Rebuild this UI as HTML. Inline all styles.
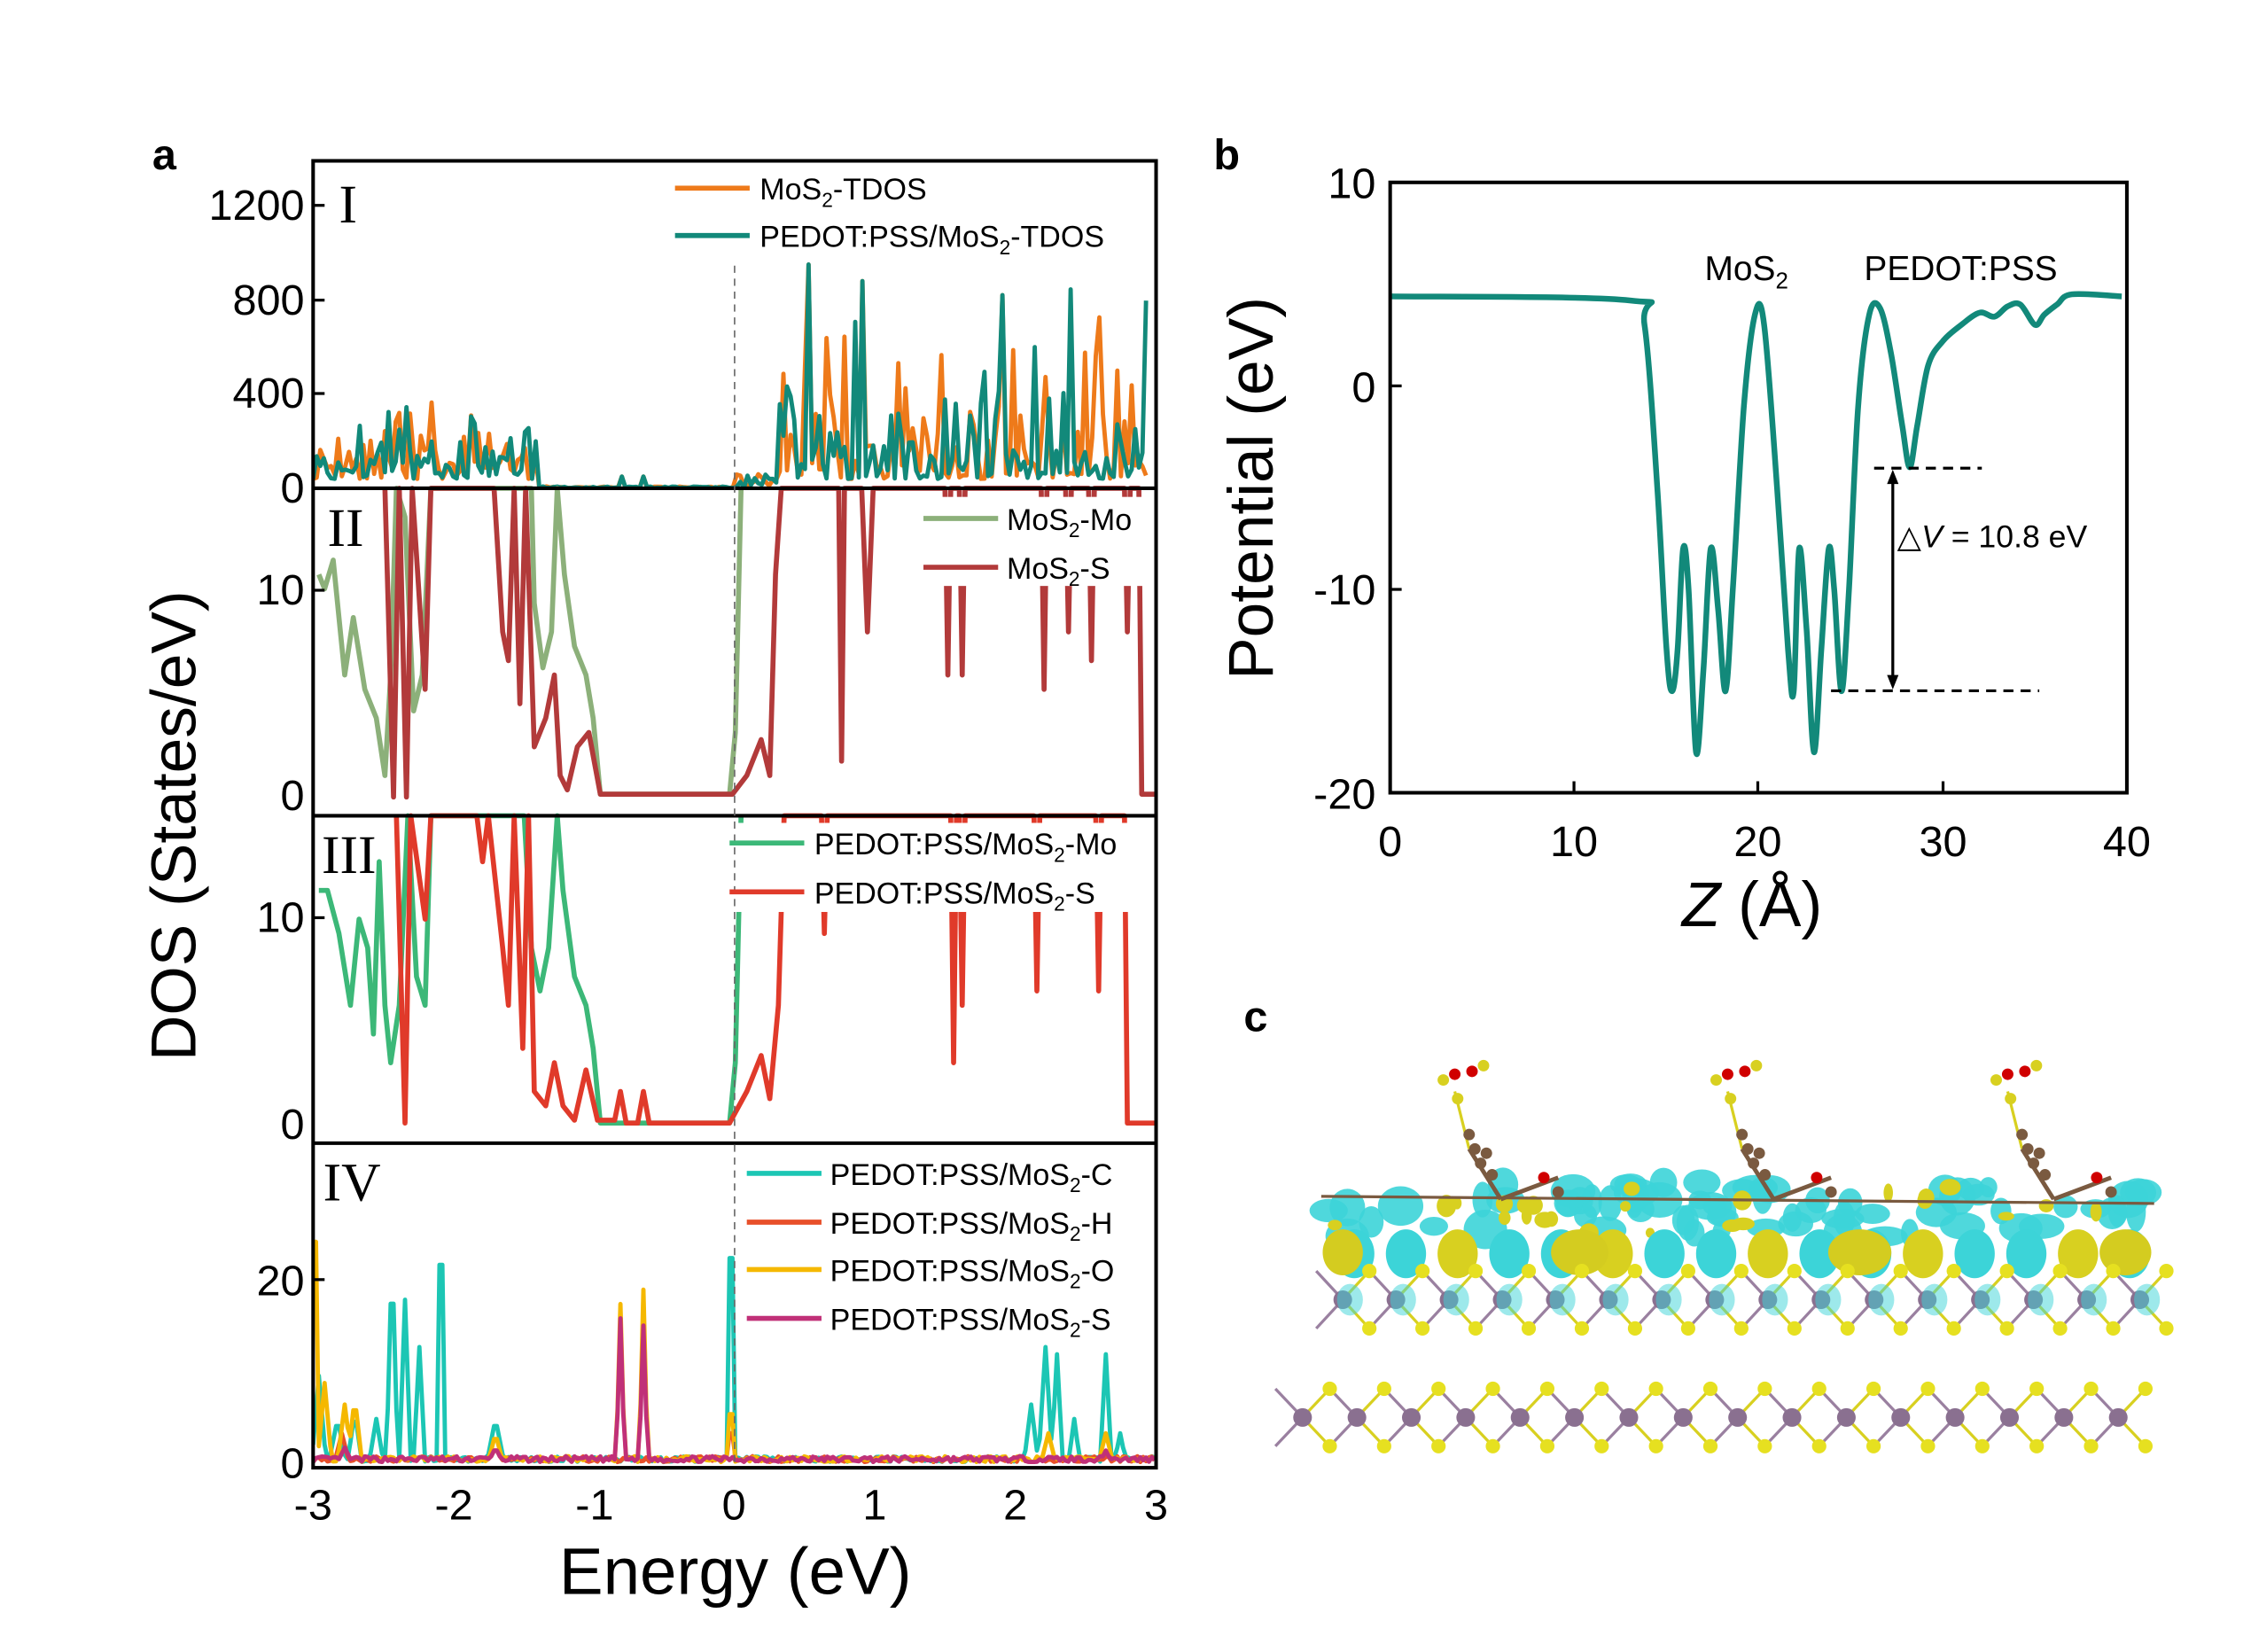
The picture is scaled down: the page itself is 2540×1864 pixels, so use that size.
<!DOCTYPE html>
<html><head><meta charset="utf-8"><style>
html,body{margin:0;padding:0;background:#fff;}
svg{display:block;font-family:"Liberation Sans",Arial,sans-serif;}
</style></head><body>
<svg id="s" width="2540" height="1864" viewBox="0 0 1567.4 1150.3" xmlns="http://www.w3.org/2000/svg">
<rect width="1567.4" height="1150.3" fill="#fff"/>
<g id="dyn"></g>
<g fill="#fff">
<rect x="640" y="346" width="162" height="62"/>
<rect x="506" y="573" width="296" height="62"/>
<rect x="518" y="803" width="284" height="128"/>
</g>
<g fill="none" stroke="#000" stroke-width="2.5">
<rect x="218" y="112" width="587" height="910"/>
<line x1="218" y1="340" x2="805" y2="340"/>
<line x1="218" y1="568" x2="805" y2="568"/>
<line x1="218" y1="796" x2="805" y2="796"/>
</g>
<line x1="511.5" y1="185" x2="511.5" y2="1022" stroke="#666" stroke-width="1" stroke-dasharray="5,4"/>
<g font-size="30" text-anchor="end" fill="#000">
<text x="212" y="153">1200</text><text x="212" y="219">800</text><text x="212" y="284">400</text><text x="212" y="350">0</text>
<text x="212" y="421">10</text><text x="212" y="564">0</text>
<text x="212" y="649">10</text><text x="212" y="793">0</text>
<text x="212" y="902">20</text><text x="212" y="1029">0</text>
</g>
<g stroke="#000" stroke-width="2">
<line x1="218" y1="143" x2="226" y2="143"/><line x1="218" y1="209" x2="226" y2="209"/><line x1="218" y1="274" x2="226" y2="274"/>
<line x1="218" y1="411" x2="226" y2="411"/><line x1="218" y1="639" x2="226" y2="639"/><line x1="218" y1="891" x2="226" y2="891"/>
</g>
<g font-size="30" text-anchor="middle">
<text x="218" y="1058">-3</text><text x="316" y="1058">-2</text><text x="414" y="1058">-1</text><text x="511" y="1058">0</text><text x="609" y="1058">1</text><text x="707" y="1058">2</text><text x="805" y="1058">3</text>
</g>
<text x="512" y="1110" font-size="46" text-anchor="middle">Energy (eV)</text>
<text transform="translate(136,575) rotate(-90)" font-size="44" text-anchor="middle">DOS (States/eV)</text>
<text x="106" y="118" font-size="30" font-weight="bold">a</text>
<g font-family="Liberation Serif,serif" font-size="38">
<text x="236" y="155">I</text><text x="228" y="380">II</text><text x="224" y="608">III</text><text x="225" y="836">IV</text>
</g>
<g font-size="21" stroke-width="3.5">
<line x1="470" y1="131" x2="522" y2="131" stroke="#ee7a1a"/><text x="529" y="139">MoS<tspan font-size="14" dy="5">2</tspan><tspan dy="-5">-TDOS</tspan></text>
<line x1="470" y1="164" x2="522" y2="164" stroke="#12897a"/><text x="529" y="172">PEDOT:PSS/MoS<tspan font-size="14" dy="5">2</tspan><tspan dy="-5">-TDOS</tspan></text>
<line x1="643" y1="361" x2="695" y2="361" stroke="#8cb07a"/><text x="701" y="369">MoS<tspan font-size="14" dy="5">2</tspan><tspan dy="-5">-Mo</tspan></text>
<line x1="643" y1="395" x2="695" y2="395" stroke="#b23a3a"/><text x="701" y="403">MoS<tspan font-size="14" dy="5">2</tspan><tspan dy="-5">-S</tspan></text>
<line x1="508" y1="587" x2="560" y2="587" stroke="#3cb878"/><text x="567" y="595">PEDOT:PSS/MoS<tspan font-size="14" dy="5">2</tspan><tspan dy="-5">-Mo</tspan></text>
<line x1="508" y1="621" x2="560" y2="621" stroke="#e03a2a"/><text x="567" y="629">PEDOT:PSS/MoS<tspan font-size="14" dy="5">2</tspan><tspan dy="-5">-S</tspan></text>
<line x1="520" y1="817" x2="572" y2="817" stroke="#1cc6b4"/><text x="578" y="825">PEDOT:PSS/MoS<tspan font-size="14" dy="5">2</tspan><tspan dy="-5">-C</tspan></text>
<line x1="520" y1="851" x2="572" y2="851" stroke="#e8502a"/><text x="578" y="859">PEDOT:PSS/MoS<tspan font-size="14" dy="5">2</tspan><tspan dy="-5">-H</tspan></text>
<line x1="520" y1="884" x2="572" y2="884" stroke="#f5b800"/><text x="578" y="892">PEDOT:PSS/MoS<tspan font-size="14" dy="5">2</tspan><tspan dy="-5">-O</tspan></text>
<line x1="520" y1="918" x2="572" y2="918" stroke="#c03078"/><text x="578" y="926">PEDOT:PSS/MoS<tspan font-size="14" dy="5">2</tspan><tspan dy="-5">-S</tspan></text>
</g>
<text x="845" y="118" font-size="30" font-weight="bold">b</text>
<rect x="968" y="127" width="513" height="425" fill="none" stroke="#000" stroke-width="2.5"/>
<g font-size="30" text-anchor="end">
<text x="958" y="138">10</text><text x="958" y="280">0</text><text x="958" y="421">-10</text><text x="958" y="563">-20</text>
</g>
<g stroke="#000" stroke-width="2">
<line x1="968" y1="268.7" x2="976" y2="268.7"/><line x1="968" y1="410.4" x2="976" y2="410.4"/>
<line x1="1096" y1="552" x2="1096" y2="544"/><line x1="1224" y1="552" x2="1224" y2="544"/><line x1="1353" y1="552" x2="1353" y2="544"/>
</g>
<g font-size="30" text-anchor="middle">
<text x="968" y="596">0</text><text x="1096" y="596">10</text><text x="1224" y="596">20</text><text x="1353" y="596">30</text><text x="1481" y="596">40</text>
</g>
<text x="1220" y="645" font-size="44" text-anchor="middle"><tspan font-style="italic">Z</tspan> (Å)</text>
<text transform="translate(886,340) rotate(-90)" font-size="44" text-anchor="middle">Potential  (eV)</text>
<text x="1187" y="195" font-size="24">MoS<tspan font-size="16" dy="6">2</tspan></text>
<text x="1298" y="195" font-size="24">PEDOT:PSS</text>
<g stroke="#000" stroke-width="2" fill="none">
<line x1="1305" y1="326" x2="1380" y2="326" stroke-dasharray="7,5"/>
<line x1="1275" y1="481" x2="1420" y2="481" stroke-dasharray="7,5"/>
<line x1="1318" y1="333" x2="1318" y2="474"/>
</g>
<path d="M1318 327 l-4 10 h8z M1318 480 l-4 -10 h8z" fill="#000"/>
<text x="1321" y="381" font-size="22">△<tspan font-style="italic">V</tspan> = 10.8 eV</text>
<text x="866" y="718" font-size="30" font-weight="bold">c</text>
</svg>
<script>
(function(){
var NS="http://www.w3.org/2000/svg",g=document.getElementById('dyn');
function el(t,a){var e=document.createElementNS(NS,t);for(var k in a)e.setAttribute(k,a[k]);g.appendChild(e);return e;}
var seed=7;function r(){seed=(seed*16807)%2147483647;return seed/2147483647;}
function line(pts,c,w){return el('polyline',{points:pts.map(function(p){return p[0].toFixed(1)+','+p[1].toFixed(1)}).join(' '),fill:'none',stroke:c,'stroke-width':w||3,'stroke-linejoin':'round'});}
var defs=el('defs',{});
function clip(id,y1,y2){var c=document.createElementNS(NS,'clipPath');c.id=id;var rr=document.createElementNS(NS,'rect');rr.setAttribute('x',218);rr.setAttribute('y',y1);rr.setAttribute('width',587);rr.setAttribute('height',y2-y1);c.appendChild(rr);defs.appendChild(c);}
clip('c1',112,340);clip('c2',340,568);clip('c3',568,796);clip('c4',796,1022);
function tdos(c,s){seed=s;var p=[];for(var x=218;x<=800;x+=2.5){var E=(x-511.5)/97.8,v;
 if(E<-1.4)v=40+r()*r()*350;else if(E<0)v=r()*8;else if(E<0.3)v=r()*60;else v=40+r()*r()*r()*1200;
 if(Math.abs(E-0.52)<0.015)v=950;if(Math.abs(E-0.9)<0.015)v=880;if(Math.abs(E-1.9)<0.015)v=820;
 if(Math.abs(E+0.8)<0.02||Math.abs(E+0.65)<0.02)v=50;
 p.push([x,340-v*0.164]);}
 line(p,c,3).setAttribute('clip-path','url(#c1)');}
tdos('#ee7a1a',11);tdos('#12897a',29);
line([[222,400],[226,410],[232,390],[240,470],[246,430],[254,480],[262,500],[268,540],[272,470],[276,340],[282,360],[288,495],[294,470],[300,340],[370,340],[372,420],[378,465],[384,440],[388,340],[393,400],[400,450],[408,470],[413,500],[418,553],[508,553],[512,510],[516,340]],'#8cb07a',3.5);
line([[268,340],[274,555],[278,340],[283,555],[287,340],[296,480],[300,340],[344,340],[350,440],[354,460],[358,340],[362,490],[366,340],[372,520],[380,500],[386,470],[390,540],[395,550],[402,520],[410,510],[418,553],[510,553],[520,540],[530,515],[536,540],[540,400],[544,340],[584,340],[586,530],[588,340],[600,340],[604,440],[608,340],[658,340],[660,470],[662,340],[668,340],[670,470],[672,340],[725,340],[727,480],[729,340],[742,340],[744,440],[746,340],[758,340],[760,460],[762,340],[783,340],[785,440],[787,340],[793,340],[795,553],[805,553]],'#b23a3a',3.5);
line([[222,620],[228,620],[236,650],[244,700],[250,640],[256,660],[260,720],[264,600],[268,700],[272,740],[278,700],[284,568],[290,680],[296,700],[300,568],[365,568],[370,660],[376,690],[382,660],[388,568],[392,620],[400,680],[408,700],[413,730],[418,782],[508,782],[512,740],[516,568]],'#3cb878',3.5);
line([[276,568],[282,782],[286,568],[296,640],[300,568],[332,568],[336,600],[340,568],[350,660],[354,700],[358,568],[364,730],[368,568],[372,760],[380,770],[386,740],[392,770],[400,780],[408,745],[416,780],[428,780],[432,760],[436,782],[444,782],[448,760],[452,782],[508,782],[520,760],[530,735],[536,765],[542,700],[546,568],[572,568],[574,650],[576,568],[662,568],[664,740],[666,568],[668,568],[670,700],[672,568],[720,568],[722,690],[724,568],[763,568],[765,690],[767,568],[783,568],[785,782],[805,782]],'#e03a2a',3.5);
function pd(c,s,sp){seed=s;var p=[];for(var x=218;x<=805;x+=2){var v=1018-r()*4;for(var i=0;i<sp.length;i++){var d=Math.abs(x-sp[i][0]);if(d<sp[i][2])v=Math.min(v,1018-(sp[i][1])*(1-d/sp[i][2]));}p.push([x,v]);}line(p,c,3).setAttribute('clip-path','url(#c4)');}
pd('#1cc6b4',3,[[222,60,5],[235,30,6],[247,35,5],[262,30,5],[273,147,4],[282,113,4],[292,80,4],[307,206,3],[345,30,6],[509,213,3],[718,40,5],[728,80,5],[736,75,4],[748,30,4],[770,75,4],[780,20,4]]);
pd('#e8502a',5,[[238,20,5],[345,10,5],[509,30,3]]);
pd('#f5b800',9,[[219,230,3],[226,55,5],[240,40,5],[247,45,5],[345,20,5],[432,110,3],[448,120,3],[509,50,3],[730,20,5],[770,20,5]]);
pd('#c03078',13,[[432,100,3],[448,95,3],[240,10,5],[345,10,5],[770,8,4]]);
var V=[[0,4.4],[13,4.2],[13.8,3],[14.5,-5],[15,-13],[15.3,-15],[15.6,-13],[15.9,-8],[16.2,-10],[16.6,-18],[17,-14],[17.4,-8],[17.8,-11],[18.2,-15],[18.6,-10],[19.2,-1],[19.8,3.5],[20.3,3],[21,-5],[21.6,-13],[21.9,-15],[22.2,-8],[22.6,-12],[23,-18],[23.4,-13],[23.8,-8],[24.1,-10],[24.5,-15],[24.9,-10],[25.4,-1],[26,3.5],[26.6,3.8],[27.2,1.5],[27.8,-2],[28.2,-4],[28.6,-2],[29.2,1],[30,2.2],[31,3],[32,3.6],[32.8,3.4],[33.5,3.9],[34.2,4],[35,3],[35.5,3.5],[36.2,4],[37,4.5],[39.7,4.4]];
var P=V.map(function(v){return [968+v[0]*12.83,268.7-v[1]*14.17];});
var d='M'+P[0][0]+' '+P[0][1];
for(var i=0;i<P.length-1;i++){var p0=P[Math.max(0,i-1)],p1=P[i],p2=P[i+1],p3=P[Math.min(P.length-1,i+2)];
 var c1=[p1[0]+(p2[0]-p0[0])/6,p1[1]+(p2[1]-p0[1])/6],c2=[p2[0]-(p3[0]-p1[0])/6,p2[1]-(p3[1]-p1[1])/6];
 d+=' C'+c1[0].toFixed(1)+' '+c1[1].toFixed(1)+' '+c2[0].toFixed(1)+' '+c2[1].toFixed(1)+' '+p2[0].toFixed(1)+' '+p2[1].toFixed(1);}
el('path',{d:d,fill:'none',stroke:'#12897a','stroke-width':4});
seed=42;
for(var i=0;i<70;i++){var x=925+r()*570,y=823+r()*38;el('ellipse',{cx:x,cy:y,rx:6+r()*10,ry:6+r()*8,fill:'#3cd4d8',opacity:0.9});}
for(var i=0;i<25;i++){var x=925+r()*570,y=823+r()*38;el('ellipse',{cx:x,cy:y,rx:3+r()*5,ry:3+r()*5,fill:'#d8d020'});}
for(var i=0;i<16;i++){var x=925+i*36;el('ellipse',{cx:x+18,cy:873,rx:14,ry:17,fill:(i%3==2)?'#d8d020':'#3cd4d8'});}
el('ellipse',{cx:1100,cy:872,rx:20,ry:16,fill:'#d4cc20'});el('ellipse',{cx:1295,cy:872,rx:22,ry:16,fill:'#d4cc20'});el('ellipse',{cx:1480,cy:872,rx:18,ry:16,fill:'#d4cc20'});el('ellipse',{cx:935,cy:872,rx:14,ry:16,fill:'#d4cc20'});
[1005,1195,1390].forEach(function(x0){
 el('line',{x1:x0+8,y1:760,x2:x0+18,y2:800,stroke:'#d8d020','stroke-width':2});
 el('line',{x1:x0+18,y1:800,x2:x0+40,y2:835,stroke:'#7a5a40','stroke-width':3});
 el('line',{x1:x0+40,y1:835,x2:x0+80,y2:820,stroke:'#7a5a40','stroke-width':3});
 [[0,752,'#d8d020'],[8,748,'#d00000'],[20,746,'#d00000'],[28,742,'#d8d020'],[10,765,'#d8d020'],[18,790,'#7a5a40'],[22,800,'#7a5a40'],[26,810,'#7a5a40'],[30,803,'#7a5a40'],[34,818,'#7a5a40'],[70,820,'#d00000'],[80,830,'#7a5a40']].forEach(function(a){el('circle',{cx:x0+a[0],cy:a[1],r:4,fill:a[2]});});
});
el('line',{x1:920,y1:833,x2:1500,y2:838,stroke:'#7a5a40','stroke-width':2});
function mos(y0,x0,x1,n,h){var dx=(x1-x0)/n;for(var i=0;i<=n;i++){var x=x0+i*dx;el('line',{x1:x,y1:y0,x2:x+dx/2,y2:y0-h,stroke:'#d8d020','stroke-width':2});el('line',{x1:x,y1:y0,x2:x+dx/2,y2:y0+h,stroke:'#d8d020','stroke-width':2});el('line',{x1:x,y1:y0,x2:x-dx/2,y2:y0-h,stroke:'#9a80a0','stroke-width':2});el('line',{x1:x,y1:y0,x2:x-dx/2,y2:y0+h,stroke:'#9a80a0','stroke-width':2});}
 for(var i=0;i<=n;i++){var x=x0+i*dx;el('circle',{cx:x+dx/2,cy:y0-h,r:5,fill:'#e6e020'});el('circle',{cx:x+dx/2,cy:y0+h,r:5,fill:'#e6e020'});el('circle',{cx:x,cy:y0,r:6.5,fill:'#8a7090'});}}
mos(905,935,1490,15,20);
for(var i=0;i<16;i++){el('ellipse',{cx:940+i*37,cy:905,rx:9,ry:11,fill:'#3cd4d8',opacity:0.5});}
mos(987,907,1475,15,20);
})();
</script>
</body></html>
